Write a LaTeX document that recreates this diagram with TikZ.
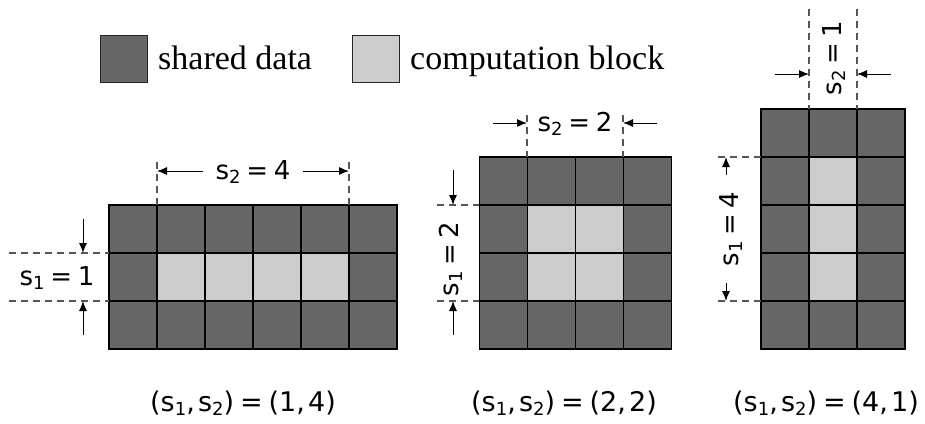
\documentclass[tikz,border=0pt]{standalone}
\usepackage{fontspec}
\setmainfont{Liberation Serif}
\newfontfamily\dvfont{DejaVu Sans}
\usetikzlibrary{arrows.meta}
\definecolor{darkcell}{HTML}{666666}
\definecolor{lightcell}{HTML}{CCCCCC}
\definecolor{dashgray}{HTML}{555555}
\newcommand\lowsub[1]{\raisebox{-0.3ex}{\fontsize{18}{18}\selectfont #1}}
\newcommand\eqsign{\hspace{0.22em}=\hspace{0.22em}}
\newcommand\dimtxt[2]{s\lowsub{#1}\eqsign#2}
\newcommand\pairtxt[2]{(s\lowsub{1},\hspace{0.12em}s\lowsub{2})\eqsign(#1,\hspace{0.12em}#2)}
\newcommand\cellgrid[6]{%
  \fill[darkcell] (#1,#2) rectangle ++(48*#3,48*#4);
  \fill[lightcell] (#1+48,#2+48) rectangle ++(48*#5,48*#6);
  \foreach \i in {0,...,#3} \draw[gridline] (#1+48*\i,#2) -- ++(0,48*#4);
  \foreach \j in {0,...,#4} \draw[gridline] (#1,#2+48*\j) -- ++(48*#3,0);
}
\tikzset{
  gridline/.style={draw=black, line width=1.4pt, line cap=rect},
  dimline/.style={draw=dashgray, line width=1.2pt, dash pattern=on 7pt off 5pt},
  dimarrow/.style={draw=black, line width=1pt, -{Latex[length=10pt,width=8pt]}},
  lbl/.style={font={\dvfont\fontsize{26}{30}\selectfont}, inner sep=0pt},
  caplbl/.style={font={\dvfont\fontsize{27}{32}\selectfont}, inner sep=0pt, anchor=base west},
  legbox/.style={draw=black!85, line width=1pt, minimum size=47pt, inner sep=0pt},
  legtxt/.style={font={\fontsize{34}{40}\selectfont}, inner sep=0pt, anchor=base west},
}
\begin{document}
\begin{tikzpicture}[x=1pt, y=-1pt]
\useasboundingbox (0,0) rectangle (925,423);
% legend
\node[legbox, fill=darkcell] (legdark) at (124,59) {};
\node[legtxt] (legdarktxt) at (158,69) {shared data};
\node[legbox, fill=lightcell] (leglight) at (375.5,59) {};
\node[legtxt] (leglighttxt) at (410,69) {computation block};
% grids
\cellgrid{109}{205}{6}{3}{4}{1}
\cellgrid{479.5}{157}{4}{4}{2}{2}
\cellgrid{761}{109}{3}{5}{1}{3}
% ---- left dimensions
\draw[dimline] (157,162) -- (157,205);
\draw[dimline] (349,162) -- (349,205);
\draw[dimline] (9,253) -- (109,253);
\draw[dimline] (9,301) -- (109,301);
\node[lbl] (Ls2) at (253,172) {\dimtxt{2}{4}};
\node[lbl] (Ls1) at (57,278) {\dimtxt{1}{1}};
\coordinate (La1) at (203,171); \coordinate (La1t) at (157,171);
\coordinate (La2) at (303,171); \coordinate (La2t) at (349,171);
\coordinate (La3) at (83,219);  \coordinate (La3t) at (83,253);
\coordinate (La4) at (83,335);  \coordinate (La4t) at (83,301);
\draw[dimarrow] (La1) -- (La1t);
\draw[dimarrow] (La2) -- (La2t);
\draw[dimarrow] (La3) -- (La3t);
\draw[dimarrow] (La4) -- (La4t);
% ---- middle dimensions
\draw[dimline] (527,115) -- (527,157);
\draw[dimline] (623,115) -- (623,157);
\draw[dimline] (437,205) -- (479,205);
\draw[dimline] (437,301) -- (479,301);
\node[lbl] (Ms2) at (575,124) {\dimtxt{2}{2}};
\node[lbl, rotate=90] (Ms1) at (451,259) {\dimtxt{1}{2}};
\coordinate (Ma1) at (493,123); \coordinate (Ma1t) at (527,123);
\coordinate (Ma2) at (657,123); \coordinate (Ma2t) at (623,123);
\coordinate (Ma3) at (453,170); \coordinate (Ma3t) at (453,205);
\coordinate (Ma4) at (453,335); \coordinate (Ma4t) at (453,301);
\draw[dimarrow] (Ma1) -- (Ma1t);
\draw[dimarrow] (Ma2) -- (Ma2t);
\draw[dimarrow] (Ma3) -- (Ma3t);
\draw[dimarrow] (Ma4) -- (Ma4t);
% ---- right dimensions
\draw[dimline] (809,9) -- (809,109);
\draw[dimline] (857,9) -- (857,109);
\draw[dimline] (718,157) -- (761,157);
\draw[dimline] (718,301) -- (761,301);
\node[lbl, rotate=90] (Rs2) at (834,58) {\dimtxt{2}{1}};
\node[lbl, rotate=90] (Rs1) at (731,229) {\dimtxt{1}{4}};
\coordinate (Ra1) at (775,74);  \coordinate (Ra1t) at (809,74);
\coordinate (Ra2) at (891,74);  \coordinate (Ra2t) at (857,74);
\coordinate (Ra3) at (726,175); \coordinate (Ra3t) at (726,157);
\coordinate (Ra4) at (726,283); \coordinate (Ra4t) at (726,301);
\draw[dimarrow] (Ra1) -- (Ra1t);
\draw[dimarrow] (Ra2) -- (Ra2t);
\draw[dimarrow] (Ra3) -- (Ra3t);
\draw[dimarrow] (Ra4) -- (Ra4t);
% ---- captions
\node[caplbl] (capL) at (150,411) {\pairtxt{1}{4}};
\node[caplbl] (capM) at (471,411) {\pairtxt{2}{2}};
\node[caplbl] (capR) at (733,411) {\pairtxt{4}{1}};
\end{tikzpicture}
\end{document}
